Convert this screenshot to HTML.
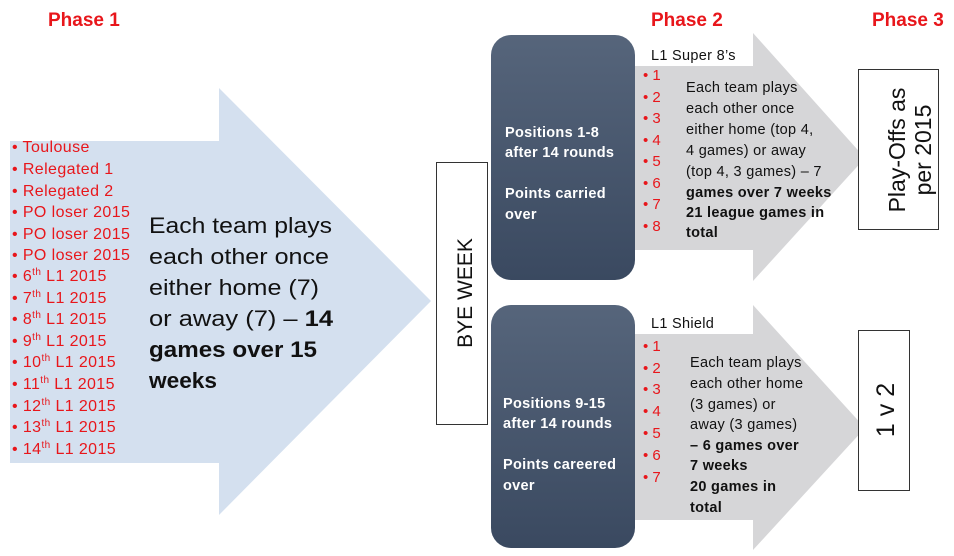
<!DOCTYPE html>
<html><head><meta charset="utf-8"><style>
html,body{margin:0;padding:0;background:#fff;}
svg{display:block;font-family:"Liberation Sans",sans-serif;}
</style></head><body>
<svg width="954" height="556" viewBox="0 0 954 556" xmlns="http://www.w3.org/2000/svg">
<defs>
<linearGradient id="dk" x1="0" y1="0" x2="0" y2="1">
<stop offset="0" stop-color="#56657b"/><stop offset="1" stop-color="#3a4960"/>
</linearGradient>
</defs>
<rect width="954" height="556" fill="#fff"/>
<text x="48" y="26" fill="#e8161b" font-size="19" font-weight="bold">Phase 1</text>
<text x="651" y="26" fill="#e8161b" font-size="19" font-weight="bold">Phase 2</text>
<text x="872" y="26" fill="#e8161b" font-size="19" font-weight="bold">Phase 3</text>

<polygon points="10,141 219,141 219,88 431,301 219,515 219,463 10,463" fill="#d4e0ef"/>
<g fill="#e8161b" font-size="16" letter-spacing="0.4">
<text x="12" y="152">• Toulouse</text>
<text x="12" y="174">• Relegated 1</text>
<text x="12" y="196">• Relegated 2</text>
<text x="12" y="217">• PO loser 2015</text>
<text x="12" y="239">• PO loser 2015</text>
<text x="12" y="260">• PO loser 2015</text>
<text x="12" y="281">• 6<tspan font-size="10" dy="-6">th</tspan><tspan dy="6"> L1 2015</tspan></text>
<text x="12" y="303">• 7<tspan font-size="10" dy="-6">th</tspan><tspan dy="6"> L1 2015</tspan></text>
<text x="12" y="324">• 8<tspan font-size="10" dy="-6">th</tspan><tspan dy="6"> L1 2015</tspan></text>
<text x="12" y="346">• 9<tspan font-size="10" dy="-6">th</tspan><tspan dy="6"> L1 2015</tspan></text>
<text x="12" y="367">• 10<tspan font-size="10" dy="-6">th</tspan><tspan dy="6"> L1 2015</tspan></text>
<text x="12" y="389">• 11<tspan font-size="10" dy="-6">th</tspan><tspan dy="6"> L1 2015</tspan></text>
<text x="12" y="411">• 12<tspan font-size="10" dy="-6">th</tspan><tspan dy="6"> L1 2015</tspan></text>
<text x="12" y="432">• 13<tspan font-size="10" dy="-6">th</tspan><tspan dy="6"> L1 2015</tspan></text>
<text x="12" y="454">• 14<tspan font-size="10" dy="-6">th</tspan><tspan dy="6"> L1 2015</tspan></text>
</g>
<g fill="#111" font-size="22">
<text x="149" y="233" textLength="183" lengthAdjust="spacingAndGlyphs">Each team plays</text>
<text x="149" y="264" textLength="180" lengthAdjust="spacingAndGlyphs">each other once</text>
<text x="149" y="295" textLength="170" lengthAdjust="spacingAndGlyphs">either home (7)</text>
<text x="149" y="326" textLength="184" lengthAdjust="spacingAndGlyphs">or away (7) – <tspan font-weight="bold">14</tspan></text>
<text x="149" y="357" font-weight="bold" textLength="168" lengthAdjust="spacingAndGlyphs">games over 15</text>
<text x="149" y="388" font-weight="bold" textLength="68" lengthAdjust="spacingAndGlyphs">weeks</text>
</g>

<rect x="436.5" y="162.5" width="51" height="262" fill="#fff" stroke="#333" stroke-width="1"/>
<text transform="translate(472,293) rotate(-90)" text-anchor="middle" font-size="21" fill="#111">BYE WEEK</text>

<polygon points="635,66 753,66 753,33 865,158 753,281 753,250 635,250" fill="#d6d6d8"/>
<rect x="640" y="36" width="113" height="30" fill="#fff"/>
<polygon points="635,334 753,334 753,305 865,428 753,550 753,520 635,520" fill="#d6d6d8"/>
<rect x="640" y="306" width="113" height="28" fill="#fff"/>

<rect x="491" y="35" width="144" height="245" rx="20" fill="url(#dk)"/>
<rect x="491" y="305" width="144" height="243" rx="20" fill="url(#dk)"/>
<g fill="#fff" font-size="14.5" font-weight="bold" letter-spacing="0.3">
<text x="505" y="137">Positions 1-8</text>
<text x="505" y="157">after 14 rounds</text>
<text x="505" y="198">Points carried</text>
<text x="505" y="219">over</text>
<text x="503" y="408">Positions 9-15</text>
<text x="503" y="428">after 14 rounds</text>
<text x="503" y="469">Points careered</text>
<text x="503" y="490">over</text>
</g>

<text x="651" y="60" font-size="14.5" fill="#111" letter-spacing="0.3">L1 Super 8’s</text>
<g fill="#e8161b" font-size="15">
<text x="643" y="80">• 1</text><text x="643" y="102">• 2</text><text x="643" y="123">• 3</text>
<text x="643" y="145">• 4</text><text x="643" y="166">• 5</text><text x="643" y="188">• 6</text>
<text x="643" y="209">• 7</text><text x="643" y="231">• 8</text>
</g>
<g fill="#111" font-size="14.5" letter-spacing="0.3">
<text x="686" y="92">Each team plays</text>
<text x="686" y="113">each other once</text>
<text x="686" y="134">either home (top 4,</text>
<text x="686" y="155">4 games) or away</text>
<text x="686" y="176">(top 4, 3 games) – 7</text>
<text x="686" y="197" font-weight="bold">games over 7 weeks</text>
<text x="686" y="217" font-weight="bold">21 league games in</text>
<text x="686" y="237" font-weight="bold">total</text>
</g>

<text x="651" y="328" font-size="14.5" fill="#111" letter-spacing="0.3">L1 Shield</text>
<g fill="#e8161b" font-size="15">
<text x="643" y="351">• 1</text><text x="643" y="373">• 2</text><text x="643" y="394">• 3</text>
<text x="643" y="416">• 4</text><text x="643" y="438">• 5</text><text x="643" y="460">• 6</text>
<text x="643" y="482">• 7</text>
</g>
<g fill="#111" font-size="14.5" letter-spacing="0.3">
<text x="690" y="367">Each team plays</text>
<text x="690" y="388">each other home</text>
<text x="690" y="409">(3 games) or</text>
<text x="690" y="429">away (3 games)</text>
<text x="690" y="450" font-weight="bold">– 6 games over</text>
<text x="690" y="470" font-weight="bold">7 weeks</text>
<text x="690" y="491" font-weight="bold">20 games in</text>
<text x="690" y="512" font-weight="bold">total</text>
</g>

<rect x="858.5" y="69.5" width="80" height="160" fill="#fff" stroke="#333" stroke-width="1"/>
<text transform="translate(905,150) rotate(-90)" text-anchor="middle" font-size="23" fill="#111">Play-Offs as</text>
<text transform="translate(931,150) rotate(-90)" text-anchor="middle" font-size="23" fill="#111">per 2015</text>
<rect x="858.5" y="330.5" width="51" height="160" fill="#fff" stroke="#333" stroke-width="1"/>
<text transform="translate(894,410) rotate(-90)" text-anchor="middle" font-size="25" fill="#111">1 v 2</text>
</svg>
</body></html>
